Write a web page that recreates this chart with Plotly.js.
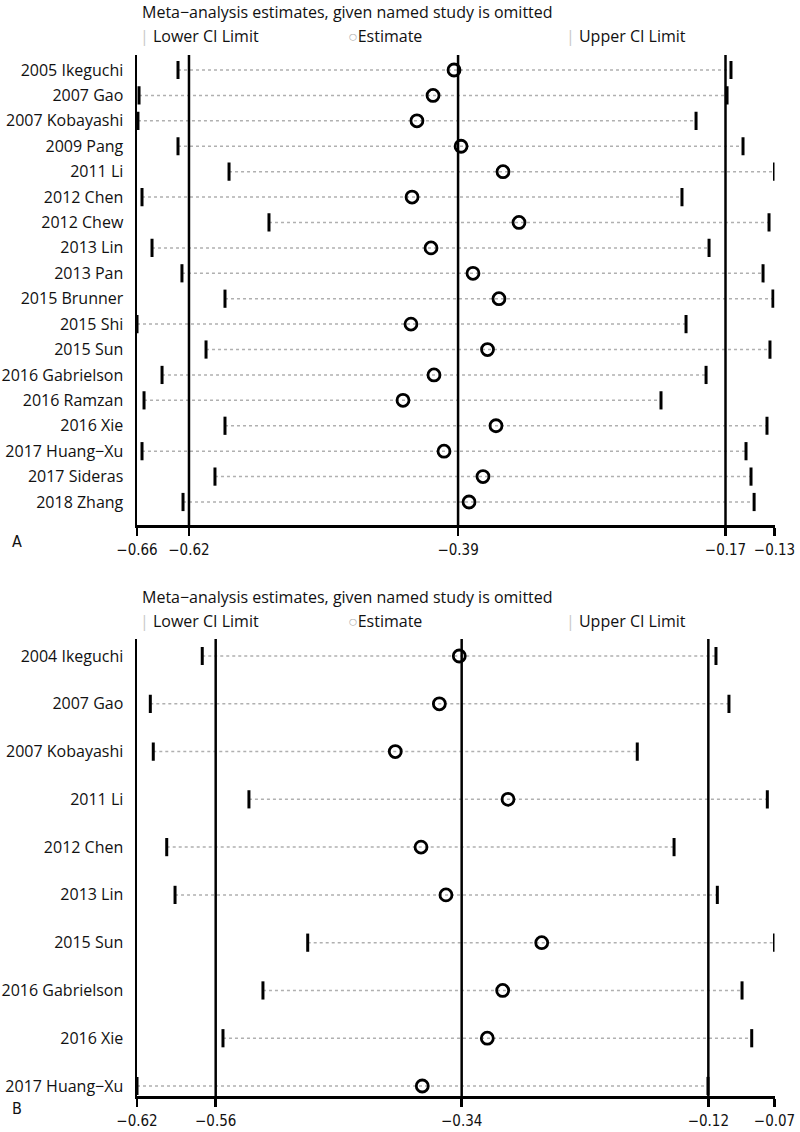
<!DOCTYPE html>
<html>
<head>
<meta charset="utf-8">
<script src="https://cdn.plot.ly/plotly-3.0.1.min.js"></script>
<style>html,body{margin:0;padding:0;background:#fff;}#chart{width:800px;height:1132px;}</style>
</head>
<body>
<div id="chart"></div>
<script>
// ---------- Panel A data ----------
const studiesA = ["2005 Ikeguchi","2007 Gao","2007 Kobayashi","2009 Pang","2011 Li","2012 Chen","2012 Chew","2013 Lin","2013 Pan","2015 Brunner","2015 Shi","2015 Sun","2016 Gabrielson","2016 Ramzan","2016 Xie","2017 Huang\u2212Xu","2017 Sideras","2018 Zhang"];
const lowerA = [-0.6292,-0.6619,-0.6628,-0.6292,-0.5864,-0.6594,-0.5529,-0.6510,-0.6259,-0.5898,-0.6636,-0.6057,-0.6426,-0.6577,-0.5898,-0.6594,-0.5982,-0.6250];
const estA   = [-0.3977,-0.4153,-0.4288,-0.3918,-0.3566,-0.4329,-0.3432,-0.4170,-0.3818,-0.3600,-0.4338,-0.3696,-0.4145,-0.4405,-0.3625,-0.4061,-0.3734,-0.3851];
const upperA = [-0.1654,-0.1687,-0.1947,-0.1553,-0.1289,-0.2065,-0.1335,-0.1838,-0.1385,-0.1302,-0.2031,-0.1327,-0.1863,-0.2241,-0.1352,-0.1528,-0.1486,-0.1460];
const overallA = [-0.6200,-0.3943,-0.1700]; // lower CI, estimate, upper CI
const tickTextA = ["\u22120.66","\u22120.62","\u22120.39","\u22120.17","\u22120.13"];

// ---------- Panel B data ----------
const studiesB = ["2004 Ikeguchi","2007 Gao","2007 Kobayashi","2011 Li","2012 Chen","2013 Lin","2015 Sun","2016 Gabrielson","2016 Xie","2017 Huang\u2212Xu"];
const lowerB = [-0.5676,-0.6132,-0.6106,-0.5266,-0.5988,-0.5915,-0.4750,-0.5143,-0.5494,-0.6249];
const estB   = [-0.3419,-0.3594,-0.3981,-0.2991,-0.3755,-0.3536,-0.2695,-0.3038,-0.3173,-0.3744];
const upperB = [-0.1165,-0.1051,-0.1856,-0.0714,-0.1533,-0.1153,-0.0651,-0.0936,-0.0851,-0.1235];
const overallB = [-0.5558,-0.3398,-0.1232];
const tickTextB = ["\u22120.62","\u22120.56","\u22120.34","\u22120.12","\u22120.07"];

const titleText = "Meta\u2212analysis estimates, given named study is omitted";
const panelLabels = ["A","B"];

// ---------- helpers ----------
const W = 800, H = 1132;
const FONT = "Open Sans, Noto Sans, sans-serif";
const TICKFONT = "Liberation Sans Narrow, DejaVu Sans Condensed, sans-serif";
function py(p){ return 1 - p / H; }

function panelTraces(studies, lo, est, up, xa, ya){
  const idx = studies.map((_, i) => i);
  const dx = [], dy = [];
  idx.forEach(i => { dx.push(lo[i], up[i], null); dy.push(i, i, null); });
  return [
    {type:'scatter', mode:'lines', x:dx, y:dy, xaxis:xa, yaxis:ya,
     line:{color:'#b0b0b0', width:1.5, dash:'dot'}, hoverinfo:'skip', showlegend:false},
    {type:'scatter', mode:'markers', x:lo, y:idx, xaxis:xa, yaxis:ya, showlegend:false,
     marker:{symbol:'line-ns-open', size:13, color:'#000', line:{color:'#000', width:3}}},
    {type:'scatter', mode:'markers', x:up, y:idx, xaxis:xa, yaxis:ya, showlegend:false,
     marker:{symbol:'line-ns-open', size:13, color:'#000', line:{color:'#000', width:3}}},
    {type:'scatter', mode:'markers', x:est, y:idx, xaxis:xa, yaxis:ya, showlegend:false,
     marker:{symbol:'circle-open', size:12, color:'#000', line:{color:'#000', width:2.8}}}
  ];
}

const traces = [
  ...panelTraces(studiesA, lowerA, estA, upperA, 'x', 'y'),
  ...panelTraces(studiesB, lowerB, estB, upperB, 'x2', 'y2')
];

const minA = Math.min(...lowerA), maxA = Math.max(...upperA);
const minB = Math.min(...lowerB), maxB = Math.max(...upperB);

function xaxisDef(mn, mx, ov, tt, anchor){
  return {range:[mn, mx], domain:[137/W, 774.5/W], anchor:anchor,
    tickvals:[mn, ov[0], ov[1], ov[2], mx], ticktext:tt,
    showline:true, linecolor:'#000', linewidth:2.5, ticks:'outside', ticklen:8,
    tickwidth:2.5, tickcolor:'#000', showgrid:false, zeroline:false, ticklabelstandoff:1,
    tickfont:{family:TICKFONT, size:15, color:'#111'}, fixedrange:true};
}
function yaxisDef(n, top, bottom, rowTop, rowBot, anchor){
  const step = (rowBot - rowTop) / (n - 1);
  const r0 = -(rowTop - top) / step;
  const r1 = (n - 1) + (bottom - rowBot) / step;
  return {range:[r1, r0], domain:[py(bottom), py(top)], anchor:anchor,
    tickvals:[...Array(n).keys()], showline:true, linecolor:'#000', linewidth:2.5,
    ticks:'', showgrid:false, zeroline:false, ticklabelstandoff:8,
    tickfont:{family:FONT, size:16, color:'#111'}, fixedrange:true};
}

const yA = yaxisDef(studiesA.length, 55, 525, 70, 502, 'x');
yA.ticktext = studiesA;
const yB = yaxisDef(studiesB.length, 639, 1096, 656, 1086, 'x2');
yB.ticktext = studiesB;

const shapes = [];
overallA.forEach(v => shapes.push({type:'line', xref:'x', yref:'y domain', x0:v, x1:v, y0:0, y1:1, line:{color:'#000', width:2.5}}));
overallB.forEach(v => shapes.push({type:'line', xref:'x2', yref:'y2 domain', x0:v, x1:v, y0:0, y1:1, line:{color:'#000', width:2.5}}));

function headerAnns(titleY, legY){
  const f = {family:FONT, size:16, color:'#111'};
  return [
    {xref:'paper', yref:'paper', x:140/W, y:py(titleY), xanchor:'left', yanchor:'middle', showarrow:false, text:titleText, font:f},
    {xref:'paper', yref:'paper', x:138/W, y:py(legY), xanchor:'left', yanchor:'middle', showarrow:false,
     text:"<span style='color:#c8c8c8'>|</span> Lower CI Limit", font:f},
    {xref:'paper', yref:'paper', x:346/W, y:py(legY), xanchor:'left', yanchor:'middle', showarrow:false,
     text:"<span style='color:#b8b8b8'>\u25CB</span>Estimate", font:f},
    {xref:'paper', yref:'paper', x:564/W, y:py(legY), xanchor:'left', yanchor:'middle', showarrow:false,
     text:"<span style='color:#c8c8c8'>|</span> Upper CI Limit", font:f}
  ];
}
const annotations = [
  ...headerAnns(12, 36),
  ...headerAnns(597, 621),
  {xref:'paper', yref:'paper', x:17/W, y:py(541), xanchor:'center', yanchor:'middle', showarrow:false, text:panelLabels[0], font:{family:TICKFONT, size:16, color:'#111'}},
  {xref:'paper', yref:'paper', x:17/W, y:py(1108), xanchor:'center', yanchor:'middle', showarrow:false, text:panelLabels[1], font:{family:TICKFONT, size:16, color:'#111'}}
];

const layout = {
  width:W, height:H, margin:{l:0, r:0, t:0, b:0},
  paper_bgcolor:'#fff', plot_bgcolor:'#fff', showlegend:false,
  xaxis: xaxisDef(minA, maxA, overallA, tickTextA, 'y'),
  yaxis: yA,
  xaxis2: xaxisDef(minB, maxB, overallB, tickTextB, 'y2'),
  yaxis2: yB,
  shapes: shapes, annotations: annotations
};

Plotly.newPlot('chart', traces, layout, {staticPlot:true, displayModeBar:false});
</script>
</body>
</html>
